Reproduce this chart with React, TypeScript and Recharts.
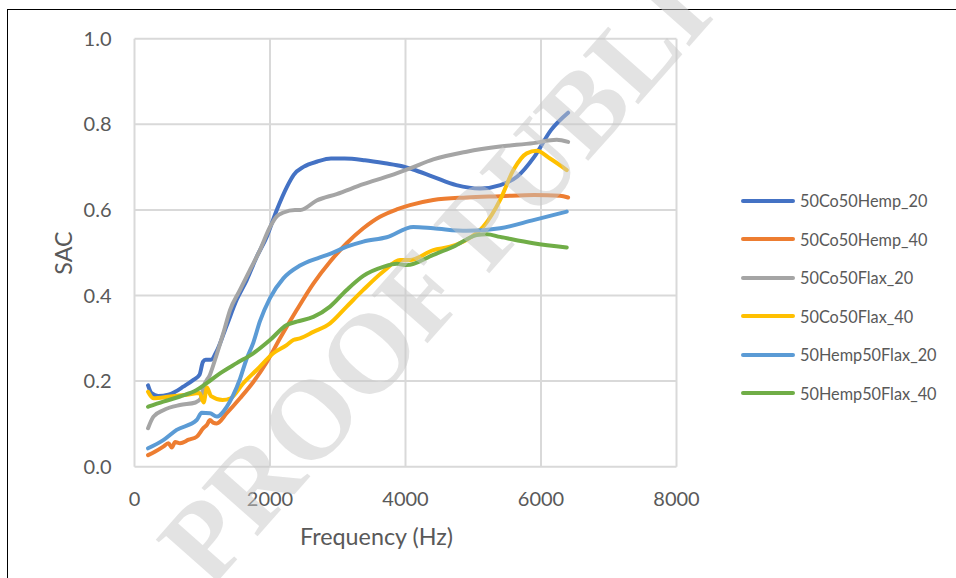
import React from 'react';
import { LineChart, Line, XAxis, YAxis, CartesianGrid, Label } from 'recharts';

// ---- data ----
const hemp20Freq = [200, 250, 350, 500, 600, 720, 870, 960, 1010, 1050, 1130, 1213, 1361, 1508, 1656, 1803, 1951, 2100, 2250, 2350, 2500, 2700, 2900, 3100, 3400, 3700, 3950, 4100, 4400, 4750, 5100, 5400, 5650, 5900, 6150, 6400];
const hemp20Sac = [0.19, 0.172, 0.165, 0.168, 0.175, 0.187, 0.203, 0.215, 0.245, 0.25, 0.25, 0.27, 0.33, 0.39, 0.436, 0.49, 0.537, 0.6, 0.654, 0.682, 0.701, 0.713, 0.72, 0.72, 0.716, 0.709, 0.702, 0.695, 0.678, 0.658, 0.65, 0.658, 0.678, 0.724, 0.787, 0.827];

const hemp40Freq = [200, 300, 425, 500, 550, 600, 672, 800, 918, 1016, 1070, 1114, 1160, 1213, 1361, 1557, 1754, 1951, 2148, 2394, 2640, 2886, 3132, 3377, 3623, 3870, 4066, 4410, 4900, 5400, 5900, 6280, 6400];
const hemp40Sac = [0.027, 0.035, 0.047, 0.055, 0.045, 0.058, 0.055, 0.063, 0.07, 0.09, 0.098, 0.109, 0.103, 0.101, 0.125, 0.16, 0.198, 0.244, 0.3, 0.366, 0.428, 0.479, 0.522, 0.557, 0.584, 0.601, 0.611, 0.623, 0.629, 0.632, 0.635, 0.633, 0.629];

const flax20Freq = [200, 280, 425, 670, 900, 980, 1016, 1114, 1213, 1311, 1410, 1557, 1705, 1852, 2000, 2100, 2200, 2369, 2450, 2689, 2984, 3377, 3771, 4066, 4410, 4903, 5395, 5887, 6232, 6400];
const flax20Sac = [0.09, 0.117, 0.132, 0.144, 0.15, 0.16, 0.185, 0.215, 0.262, 0.312, 0.366, 0.413, 0.46, 0.506, 0.56, 0.585, 0.594, 0.6, 0.6, 0.622, 0.637, 0.66, 0.68, 0.697, 0.718, 0.736, 0.748, 0.756, 0.764, 0.759];

const flax40Freq = [200, 277, 524, 770, 960, 1020, 1070, 1130, 1300, 1420, 1606, 1803, 2049, 2246, 2344, 2443, 2640, 2886, 3132, 3377, 3672, 3919, 4066, 4410, 4657, 4903, 5149, 5395, 5592, 5789, 5937, 6133, 6380];
const flax40Sac = [0.175, 0.16, 0.164, 0.168, 0.172, 0.15, 0.185, 0.165, 0.156, 0.16, 0.195, 0.226, 0.265, 0.284, 0.296, 0.3, 0.315, 0.335, 0.374, 0.413, 0.456, 0.483, 0.483, 0.506, 0.514, 0.53, 0.561, 0.623, 0.693, 0.732, 0.738, 0.72, 0.693];

const hf20Freq = [200, 425, 622, 918, 992, 1114, 1213, 1361, 1450, 1557, 1650, 1754, 1852, 2000, 2197, 2443, 2700, 2886, 3132, 3377, 3722, 4115, 4410, 4903, 5395, 5887, 6380];
const hf20Sac = [0.043, 0.062, 0.086, 0.109, 0.126, 0.125, 0.117, 0.14, 0.165, 0.205, 0.25, 0.29, 0.34, 0.394, 0.44, 0.47, 0.487, 0.497, 0.514, 0.526, 0.536, 0.56, 0.557, 0.551, 0.557, 0.576, 0.596];

const hf40Freq = [200, 425, 672, 918, 1066, 1262, 1508, 1754, 2000, 2246, 2394, 2640, 2886, 3132, 3377, 3672, 3870, 4017, 4410, 4706, 5051, 5200, 5395, 5887, 6380];
const hf40Sac = [0.14, 0.152, 0.164, 0.179, 0.195, 0.218, 0.242, 0.265, 0.296, 0.331, 0.339, 0.35, 0.374, 0.413, 0.446, 0.467, 0.474, 0.471, 0.495, 0.514, 0.541, 0.543, 0.537, 0.522, 0.512];

const xTicks = [0, 2000, 4000, 6000, 8000];
const yTicks = [0, 0.2, 0.4, 0.6, 0.8, 1.0];

const seriesNames = ['50Co50Hemp_20', '50Co50Hemp_40', '50Co50Flax_20', '50Co50Flax_40', '50Hemp50Flax_20', '50Hemp50Flax_40'];
const seriesColors = ['#4472C4', '#ED7D31', '#A5A5A5', '#FFC000', '#5B9BD5', '#70AD47'];
const seriesFreqs = [hemp20Freq, hemp40Freq, flax20Freq, flax40Freq, hf20Freq, hf40Freq];
const seriesSacs = [hemp20Sac, hemp40Sac, flax20Sac, flax40Sac, hf20Sac, hf40Sac];

const toPoints = (f: number[], s: number[]) => f.map((x, i) => ({ freq: x, sac: s[i] }));

const FONT = 'Lato, "Open Sans", sans-serif';
const TXT = '#595959';

const LegendBox = () => (
  <div style={{ position: 'absolute', left: 741, top: 181.5, width: 215, fontFamily: FONT }}>
    {seriesNames.map((n, i) => (
      <div key={n} style={{ height: 38.5, display: 'flex', alignItems: 'center' }}>
        <span style={{ display: 'inline-block', width: 54, height: 4, borderRadius: 2, background: seriesColors[i] }} />
        <span style={{ marginLeft: 5, fontSize: 16.3, color: TXT, whiteSpace: 'nowrap' }}>{n}</span>
      </div>
    ))}
  </div>
);

export default function App() {
  return (
    <div style={{ position: 'absolute', left: 0, top: 0, width: 956, height: 578, overflow: 'hidden', background: '#fff' }}>
      <div style={{ position: 'absolute', left: 7, top: 9, width: 1000, height: 700, borderLeft: '1.5px solid #000', borderTop: '1.5px solid #000' }} />
      <div style={{ position: 'absolute', left: 0, top: 0 }}>
        <LineChart width={956} height={578} margin={{ top: 38.7, right: 279.5, bottom: 81.3, left: 0 }}>
          <CartesianGrid stroke="#d9d9d9" strokeWidth={2} />
          <XAxis
            type="number"
            dataKey="freq"
            domain={[0, 8000]}
            ticks={xTicks}
            height={30}
            axisLine={false}
            tickLine={false}
            tickSize={0}
            tickMargin={25}
            tick={{ fill: TXT, fontSize: 20, fontFamily: FONT }}
            allowDuplicatedCategory={false}
          >
            <Label
              content={() => (
                <text x={376.5} y={545} textAnchor="middle" fill={TXT} fontSize={23.3} fontFamily={FONT}>
                  Frequency (Hz)
                </text>
              )}
            />
          </XAxis>
          <YAxis
            type="number"
            domain={[0, 1]}
            ticks={yTicks}
            width={134.5}
            axisLine={false}
            tickLine={false}
            tickSize={0}
            tickMargin={23}
            tickFormatter={(v: number) => v.toFixed(1)}
            tick={{ fill: TXT, fontSize: 20, fontFamily: FONT }}
          >
            <Label
              content={() => (
                <text x={63} y={253} textAnchor="middle" dominantBaseline="central" transform="rotate(-90 63 253)" fill={TXT} fontSize={23.3} fontFamily={FONT}>
                  SAC
                </text>
              )}
            />
          </YAxis>
          {seriesNames.map((n, i) => (
            <Line
              key={n}
              name={n}
              data={toPoints(seriesFreqs[i], seriesSacs[i])}
              dataKey="sac"
              type="monotone"
              stroke={seriesColors[i]}
              strokeWidth={4}
              strokeLinecap="round"
              dot={false}
              activeDot={false}
              isAnimationActive={false}
            />
          ))}
        </LineChart>
      </div>
      <LegendBox />
      <svg width={956} height={578} style={{ position: 'absolute', left: 0, top: 0, pointerEvents: 'none' }}>
        <text
          x={210}
          y={590}
          transform="rotate(-48.6 210 590)"
          fontFamily='"Liberation Serif", serif'
          fontWeight="bold"
          fontSize={113}
          fill="#c8c8c8"
          fillOpacity={0.5}
        >
          PROOF PUBLICATION
        </text>
      </svg>
    </div>
  );
}
